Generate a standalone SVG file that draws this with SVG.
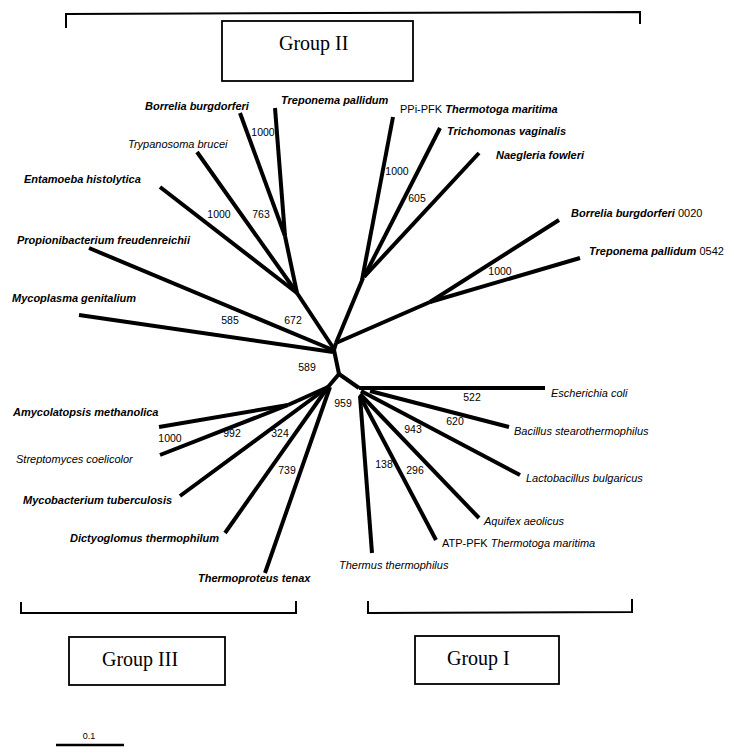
<svg xmlns="http://www.w3.org/2000/svg" width="734" height="756" viewBox="0 0 734 756">
<style>
.br{stroke:#000;stroke-width:4;fill:none;stroke-linejoin:round;stroke-linecap:butt}
.bk{stroke:#000;stroke-width:2;fill:none}
.box{stroke:#000;stroke-width:1.8;fill:#fff}
.sp{font-family:"Liberation Sans",Arial,sans-serif;font-size:11px;font-style:italic;fill:#000}
.b{font-weight:bold}
.n{font-family:"Liberation Sans",Arial,sans-serif;font-size:10.5px;fill:#000}
.g{font-family:"Liberation Serif","Times New Roman",serif;font-size:20px;fill:#000}
</style>
<rect width="734" height="756" fill="#fff"/>
<g id="connectors">
<line class="br" x1="240" y1="113" x2="285" y2="236"/>
<line class="br" x1="275" y1="108" x2="285" y2="236"/>
<line class="br" x1="285" y1="236" x2="297" y2="293"/>
<line class="br" x1="197" y1="152" x2="297" y2="293"/>
<line class="br" x1="160" y1="187" x2="297" y2="293"/>
<line class="br" x1="297" y1="293" x2="334" y2="349"/>
<line class="br" x1="89" y1="248" x2="333" y2="350"/>
<line class="br" x1="79" y1="315" x2="333" y2="352"/>
<polyline class="br" points="336,343 334,350 339,374"/>
<line class="br" x1="336" y1="343" x2="363" y2="278"/>
<line class="br" x1="393" y1="117" x2="362" y2="280"/>
<line class="br" x1="440" y1="128" x2="364" y2="277"/>
<line class="br" x1="479" y1="153" x2="364" y2="277"/>
<line class="br" x1="336" y1="343" x2="430" y2="302"/>
<line class="br" x1="559" y1="220" x2="430" y2="302"/>
<line class="br" x1="580" y1="258" x2="430" y2="302"/>
<line class="br" x1="339" y1="374" x2="328" y2="387"/>
<line class="br" x1="328" y1="387" x2="288" y2="405"/>
<line class="br" x1="159" y1="427" x2="288" y2="405"/>
<line class="br" x1="160" y1="455" x2="288" y2="405"/>
<line class="br" x1="180" y1="496" x2="328" y2="387"/>
<line class="br" x1="225" y1="533" x2="328" y2="387"/>
<line class="br" x1="265" y1="573" x2="330" y2="387"/>
<line class="br" x1="339" y1="374" x2="359" y2="388"/>
<line class="br" x1="359" y1="388" x2="545" y2="388"/>
<line class="br" x1="370" y1="391" x2="509" y2="427"/>
<line class="br" x1="361" y1="391" x2="520" y2="475"/>
<line class="br" x1="360" y1="394" x2="479" y2="518"/>
<line class="br" x1="360" y1="396" x2="436" y2="540"/>
<line class="br" x1="360" y1="396" x2="372" y2="553"/>
</g>
<g id="bootstrap">
<text class="n" x="263" y="136" text-anchor="middle">1000</text>
<text class="n" x="219" y="218" text-anchor="middle">1000</text>
<text class="n" x="261" y="218" text-anchor="middle">763</text>
<text class="n" x="230" y="324" text-anchor="middle">585</text>
<text class="n" x="293" y="324" text-anchor="middle">672</text>
<text class="n" x="307" y="371" text-anchor="middle">589</text>
<text class="n" x="397" y="175" text-anchor="middle">1000</text>
<text class="n" x="417" y="202" text-anchor="middle">605</text>
<text class="n" x="500" y="275" text-anchor="middle">1000</text>
<text class="n" x="343" y="407" text-anchor="middle">959</text>
<text class="n" x="170" y="442" text-anchor="middle">1000</text>
<text class="n" x="232" y="437" text-anchor="middle">992</text>
<text class="n" x="280" y="437" text-anchor="middle">324</text>
<text class="n" x="287" y="474" text-anchor="middle">739</text>
<text class="n" x="472" y="401" text-anchor="middle">522</text>
<text class="n" x="455" y="425" text-anchor="middle">620</text>
<text class="n" x="413" y="433" text-anchor="middle">943</text>
<text class="n" x="384" y="468" text-anchor="middle">138</text>
<text class="n" x="415" y="474" text-anchor="middle">296</text>
</g>
<g id="taxa">
<text class="sp b" x="145" y="110">Borrelia burgdorferi</text>
<text class="sp b" x="281" y="104">Treponema pallidum</text>
<text class="sp" x="128" y="148">Trypanosoma brucei</text>
<text class="sp b" x="24" y="183">Entamoeba histolytica</text>
<text class="sp b" x="17" y="244">Propionibacterium freudenreichii</text>
<text class="sp b" x="12" y="302">Mycoplasma genitalium</text>
<text class="sp" x="400" y="113"><tspan font-style="normal">PPi-PFK </tspan><tspan font-weight="bold">Thermotoga maritima</tspan></text>
<text class="sp b" x="447" y="135">Trichomonas vaginalis</text>
<text class="sp b" x="496" y="159">Naegleria fowleri</text>
<text class="sp" x="571" y="217"><tspan font-weight="bold">Borrelia burgdorferi</tspan><tspan font-style="normal">  0020</tspan></text>
<text class="sp" x="589" y="255"><tspan font-weight="bold">Treponema pallidum</tspan><tspan font-style="normal"> 0542</tspan></text>
<text class="sp b" x="13" y="416">Amycolatopsis methanolica</text>
<text class="sp" x="16" y="463">Streptomyces coelicolor</text>
<text class="sp b" x="23" y="504">Mycobacterium tuberculosis</text>
<text class="sp b" x="70" y="542">Dictyoglomus thermophilum</text>
<text class="sp b" x="198" y="582">Thermoproteus tenax</text>
<text class="sp" x="551" y="397">Escherichia coli</text>
<text class="sp" x="514" y="435">Bacillus stearothermophilus</text>
<text class="sp" x="526" y="482">Lactobacillus bulgaricus</text>
<text class="sp" x="484" y="525">Aquifex aeolicus</text>
<text class="sp" x="442" y="547"><tspan font-style="normal">ATP-PFK </tspan>Thermotoga maritima</text>
<text class="sp" x="339" y="569">Thermus thermophilus</text>
</g>
<g id="group2">
<polyline class="bk" points="66,28 66,14 640,12 640,24"/>
<rect class="box" x="222" y="21" width="191" height="60"/>
<text class="g" x="279" y="50">Group II</text>
</g>
<g id="group3">
<polyline class="bk" points="21,602 21,613 296,613 296,601"/>
<rect class="box" x="69" y="637" width="156" height="48"/>
<text class="g" x="102" y="666">Group III</text>
</g>
<g id="group1">
<polyline class="bk" points="368,601 368,613 632,612 632,599"/>
<rect class="box" x="415" y="636" width="144" height="48"/>
<text class="g" x="447" y="665">Group I</text>
</g>
<g id="scale">
<line x1="56" y1="745" x2="124" y2="745" stroke="#000" stroke-width="2.7"/>
<text x="89" y="739" text-anchor="middle" font-family="Liberation Sans,Arial,sans-serif" font-size="9px">0.1</text>
</g>
</svg>
